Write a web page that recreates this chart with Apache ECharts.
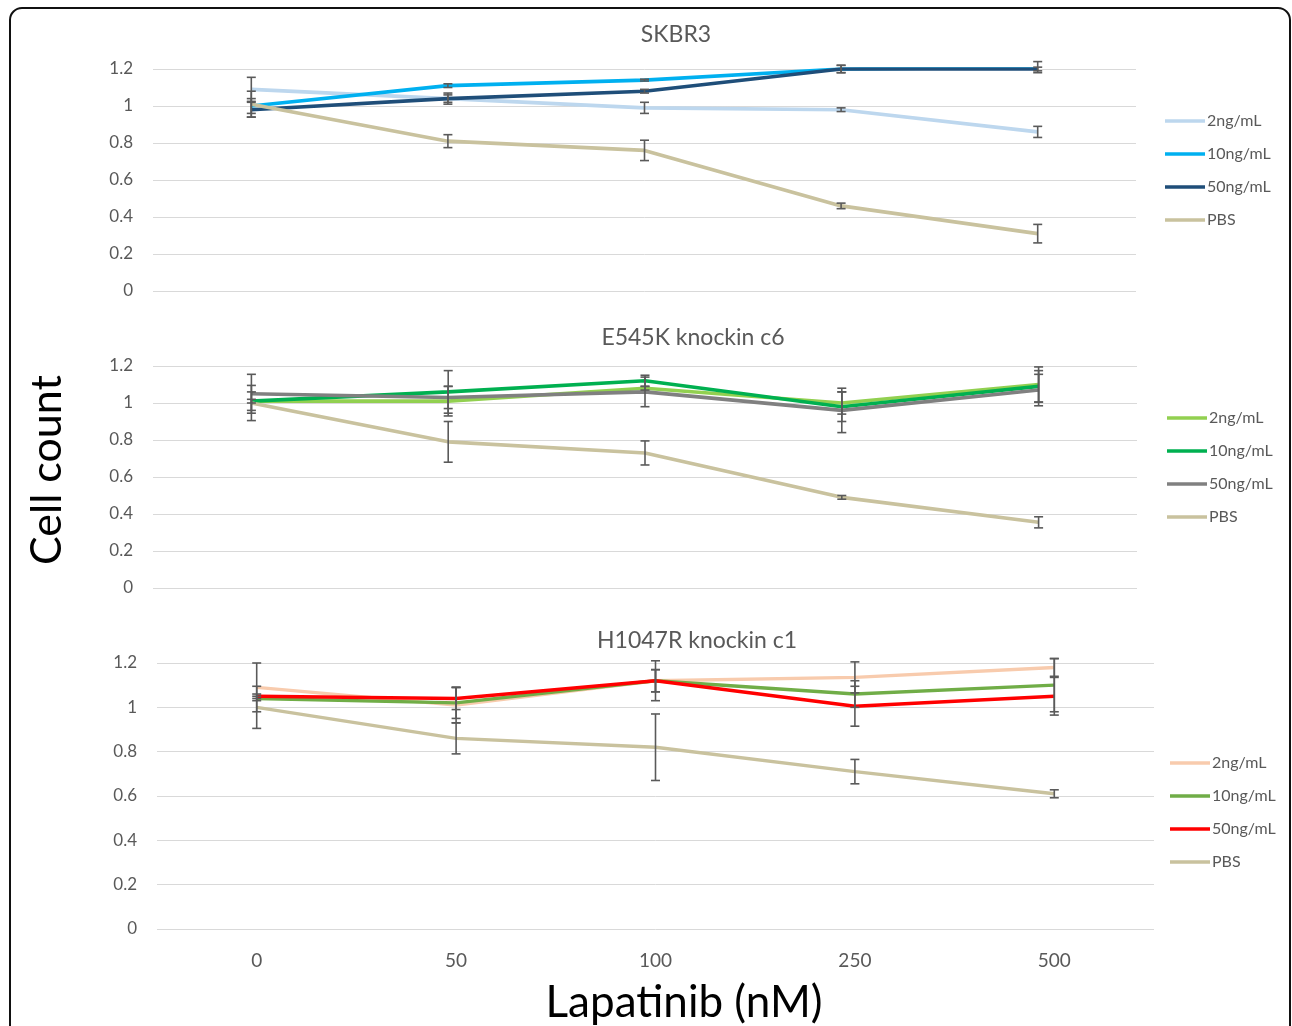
<!DOCTYPE html>
<html>
<head>
<meta charset="utf-8">
<script src="https://cdn.jsdelivr.net/npm/echarts@6/dist/echarts.min.js"></script>
<style>
  html, body { margin: 0; padding: 0; background: #fff; }
  #chart { width: 1292px; height: 1026px; }
</style>
</head>
<body>
<div id="chart"></div>
<script>
// Lapatinib doses (x categories)
const doses = ['0', '50', '100', '250', '500'];
const doseLabels = ['2ng/mL', '10ng/mL', '50ng/mL', 'PBS'];
const yTicks = [0, 0.2, 0.4, 0.6, 0.8, 1, 1.2];

// SKBR3
const skbr3_2 = [1.09, 1.04, 0.99, 0.98, 0.86];
const skbr3_10 = [1.00, 1.11, 1.14, 1.20, 1.21];
const skbr3_50 = [0.98, 1.04, 1.08, 1.20, 1.20];
const skbr3_pbs = [1.01, 0.81, 0.76, 0.46, 0.31];
const skbr3_2_err = [0.065, 0.02, 0.03, 0.01, 0.03];
const skbr3_10_err = [0.04, 0.01, 0.005, 0.02, 0.03];
const skbr3_50_err = [0.04, 0.03, 0.01, 0.02, 0.01];
const skbr3_pbs_err = [0.07, 0.035, 0.055, 0.015, 0.05];

// E545K knockin c6
const e545k_2 = [1.01, 1.01, 1.08, 1.00, 1.10];
const e545k_10 = [1.01, 1.06, 1.12, 0.98, 1.09];
const e545k_50 = [1.05, 1.03, 1.06, 0.96, 1.07];
const e545k_pbs = [1.00, 0.79, 0.73, 0.49, 0.355];
const e545k_2_err = [0.05, 0.08, 0.01, 0.06, 0.095];
const e545k_10_err = [0.01, 0.115, 0.03, 0.08, 0.085];
const e545k_50_err = [0.105, 0.06, 0.08, 0.12, 0.085];
const e545k_pbs_err = [0.095, 0.11, 0.065, 0.01, 0.03];

// H1047R knockin c1
const h1047r_2 = [1.09, 1.01, 1.12, 1.135, 1.18];
const h1047r_10 = [1.04, 1.02, 1.12, 1.06, 1.10];
const h1047r_50 = [1.05, 1.04, 1.12, 1.005, 1.05];
const h1047r_pbs = [1.00, 0.86, 0.82, 0.71, 0.61];
const h1047r_2_err = [0.11, 0.08, 0.09, 0.07, 0.04];
const h1047r_10_err = [0.01, 0.07, 0.05, 0.06, 0.12];
const h1047r_50_err = [0.01, 0.05, 0.05, 0.09, 0.085];
const h1047r_pbs_err = [0.095, 0.07, 0.15, 0.055, 0.018];

const FONT = 'Lato';
const GREY = '#595959';
const TAN = '#C9C29E';

const panels = [
  {
    title: 'SKBR3', titleX: 676, titleY: 35,
    grid: {left: 153, top: 69, width: 983, height: 222},
    legend: {left: 1160, top: 108},
    colors: ['#BDD7EE', '#00B0F0', '#1F4E79', TAN],
    vals: [skbr3_2, skbr3_10, skbr3_50, skbr3_pbs],
    errs: [skbr3_2_err, skbr3_10_err, skbr3_50_err, skbr3_pbs_err],
    width: 3.6, showX: false
  },
  {
    title: 'E545K knockin c6', titleX: 693, titleY: 338,
    grid: {left: 153, top: 366, width: 984, height: 222},
    legend: {left: 1162, top: 405},
    colors: ['#92D050', '#00B050', '#808080', TAN],
    vals: [e545k_2, e545k_10, e545k_50, e545k_pbs],
    errs: [e545k_2_err, e545k_10_err, e545k_50_err, e545k_pbs_err],
    width: 3.6, showX: false
  },
  {
    title: 'H1047R knockin c1', titleX: 697, titleY: 641,
    grid: {left: 157, top: 663, width: 997, height: 266},
    legend: {left: 1165, top: 750},
    colors: ['#F8CBAD', '#70AD47', '#FF0000', TAN],
    vals: [h1047r_2, h1047r_10, h1047r_50, h1047r_pbs],
    errs: [h1047r_2_err, h1047r_10_err, h1047r_50_err, h1047r_pbs_err],
    width: 3.4, showX: true
  }
];

const myChart = echarts.init(document.getElementById('chart'), null, {renderer: 'canvas'});

const grids = [], xAxes = [], yAxes = [], legends = [], series = [];
const graphics = [
  {
    type: 'rect',
    shape: {x: 10, y: 8, width: 1280, height: 1080, r: 12},
    style: {fill: 'none', stroke: '#111', lineWidth: 2},
    silent: true
  },
  {
    type: 'text',
    x: 47, y: 470,
    rotation: Math.PI / 2,
    style: {text: 'Cell count', fontFamily: FONT, fontSize: 43, fill: '#000', align: 'center', verticalAlign: 'middle'}
  },
  {
    type: 'text',
    x: 684, y: 1003,
    style: {text: 'Lapatinib (nM)', fontFamily: FONT, fontSize: 44, fill: '#000', align: 'center', verticalAlign: 'middle'}
  }
];

panels.forEach((p, k) => {
  graphics.push({
    type: 'text',
    x: p.titleX, y: p.titleY,
    style: {text: p.title, fontFamily: FONT, fontSize: 23, fill: GREY, align: 'center', verticalAlign: 'middle'}
  });
  grids.push(Object.assign({containLabel: false}, p.grid));
  xAxes.push({
    type: 'category',
    gridIndex: k,
    data: doses,
    boundaryGap: true,
    axisLine: {show: false},
    axisTick: {show: false},
    axisLabel: {show: p.showX, margin: 22, fontFamily: FONT, fontSize: 19, color: GREY}
  });
  yAxes.push({
    type: 'value',
    gridIndex: k,
    min: yTicks[0],
    max: yTicks[yTicks.length - 1],
    interval: 0.2,
    axisLine: {show: false},
    axisTick: {show: false},
    splitLine: {lineStyle: {color: '#D9D9D9', width: 1}},
    axisLabel: {margin: 20, fontFamily: FONT, fontSize: 17, color: GREY}
  });
  const names = doseLabels.map((d) => p.title + '|' + d);
  legends.push({
    orient: 'vertical',
    left: p.legend.left,
    top: p.legend.top,
    data: names,
    icon: 'rect',
    itemWidth: 40,
    itemHeight: 3.5,
    itemGap: 17,
    selectedMode: false,
    formatter: (name) => name.split('|')[1],
    textStyle: {fontFamily: FONT, fontSize: 16, color: GREY, lineHeight: 16, padding: [0, 0, 0, -3]}
  });
  p.vals.forEach((vals, j) => {
    series.push({
      name: names[j],
      type: 'line',
      xAxisIndex: k,
      yAxisIndex: k,
      data: vals,
      symbol: 'none',
      color: p.colors[j],
      lineStyle: {width: p.width, color: p.colors[j]},
      z: 2 + j
    });
  });
  // error bars
  const errData = [];
  p.vals.forEach((vals, j) => {
    vals.forEach((v, i) => {
      errData.push([i, v - p.errs[j][i], v + p.errs[j][i]]);
    });
  });
  series.push({
    type: 'custom',
    xAxisIndex: k,
    yAxisIndex: k,
    z: 10,
    data: errData,
    renderItem: (params, api) => {
      const lo = api.coord([api.value(0), api.value(1)]);
      const hi = api.coord([api.value(0), api.value(2)]);
      const w = 4.5;
      const st = {stroke: '#5A5A5A', lineWidth: 1.6};
      return {
        type: 'group',
        children: [
          {type: 'line', shape: {x1: lo[0], y1: lo[1], x2: hi[0], y2: hi[1]}, style: st},
          {type: 'line', shape: {x1: lo[0] - w, y1: lo[1], x2: lo[0] + w, y2: lo[1]}, style: st},
          {type: 'line', shape: {x1: hi[0] - w, y1: hi[1], x2: hi[0] + w, y2: hi[1]}, style: st}
        ]
      };
    }
  });
});

myChart.setOption({
  animation: false,
  backgroundColor: '#fff',
  grid: grids,
  xAxis: xAxes,
  yAxis: yAxes,
  legend: legends,
  series: series,
  graphic: graphics
});
</script>
</body>
</html>
